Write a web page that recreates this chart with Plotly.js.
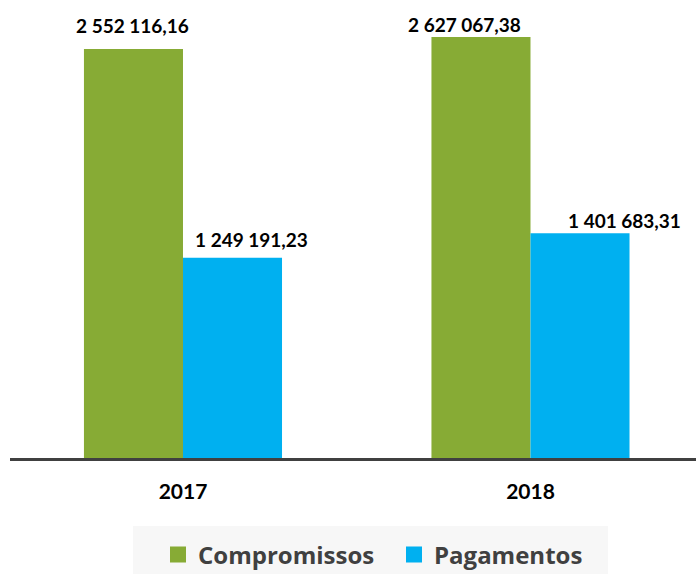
<!DOCTYPE html>
<html>
<head>
<meta charset="utf-8">
<script src="https://cdn.plot.ly/plotly-3.0.1.min.js"></script>
<style>html,body{margin:0;padding:0;background:#fff;}#chart{width:696px;height:574px;}</style>
</head>
<body>
<div id="chart"></div>
<script>
const categories = ['2017', '2018'];
const compromissos = [2552116.16, 2627067.38];
const pagamentos = [1249191.23, 1401683.31];
const seriesNames = ['Compromissos', 'Pagamentos'];
const seriesColors = ['#87AB35', '#00B0F0'];

function fmt(v) {
  const parts = v.toFixed(2).split('.');
  const intPart = parts[0].replace(/\B(?=(\d{3})+(?!\d))/g, ' ');
  return intPart + ',' + parts[1];
}

const bargap = 0.43;
const halfBar = (1 - bargap) / 4; // offset of each bar center from category center
const seriesValues = [compromissos, pagamentos];

// manual label placement (pixels) as in the original chart
const labelShift = [
  [{dx: -1, dy: 24}, {dx: -16, dy: 12}],
  [{dx: 19, dy: 18}, {dx: 44, dy: 13}]
];

const traces = [];
seriesValues.forEach((vals, s) => {
  traces.push({
    type: 'bar', x: categories, y: vals, name: seriesNames[s],
    marker: {color: seriesColors[s]}, showlegend: false, hoverinfo: 'skip'
  });
});
seriesValues.forEach((vals, s) => {
  traces.push({
    type: 'scatter', mode: 'markers', x: [null], y: [null], name: seriesNames[s],
    marker: {symbol: 'square', size: 16, color: seriesColors[s]}, showlegend: true
  });
});

const annotations = [];
seriesValues.forEach((vals, s) => {
  vals.forEach((v, i) => {
    annotations.push({
      x: i + (s === 0 ? -halfBar : halfBar), y: v, xref: 'x', yref: 'y',
      text: fmt(v), showarrow: false, xanchor: 'center', yanchor: 'middle',
      xshift: labelShift[s][i].dx, yshift: labelShift[s][i].dy,
      font: {family: 'Lato, sans-serif', size: 19, weight: 700, color: '#000000'}
    });
  });
});

const layout = {
  width: 696, height: 574,
  margin: {l: 10, r: 0, t: 0, b: 116},
  paper_bgcolor: '#ffffff', plot_bgcolor: '#ffffff',
  barmode: 'group', bargap: bargap, bargroupgap: 0,
  xaxis: {
    type: 'category', range: [-0.4978, 1.4763],
    showline: true, linecolor: '#404040', linewidth: 3,
    showgrid: false, zeroline: false, ticks: '',
    ticklabelstandoff: 13,
    tickfont: {family: 'Lato, sans-serif', size: 21, weight: 700, color: '#000000'},
    fixedrange: true
  },
  yaxis: {
    range: [0, 2857900], visible: false, showgrid: false, zeroline: false, fixedrange: true
  },
  showlegend: true,
  legend: {
    orientation: 'h', xref: 'container', yref: 'container',
    x: 158 / 696, xanchor: 'left', y: 19 / 574, yanchor: 'middle',
    bgcolor: 'rgba(0,0,0,0)', itemwidth: 30,
    entrywidth: 191, entrywidthmode: 'pixels',
    font: {family: 'Open Sans, sans-serif', size: 24, weight: 700, color: '#404040'}
  },
  shapes: [{
    type: 'rect', xref: 'paper', yref: 'paper', layer: 'below',
    x0: (133 - 10) / 686, x1: (608 - 10) / 686,
    y0: (458 - 526) / 458, y1: (458 - 580) / 458,
    fillcolor: '#F7F7F7', line: {width: 0}
  }],
  annotations: annotations
};

Plotly.newPlot('chart', traces, layout, {displayModeBar: false, staticPlot: true});
</script>
</body>
</html>
